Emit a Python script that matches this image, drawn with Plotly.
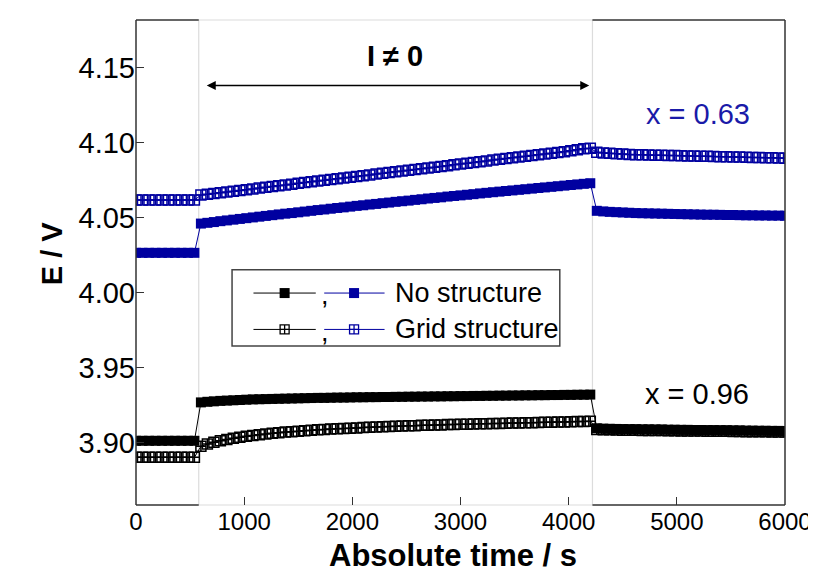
import plotly.graph_objects as go

# ---------------- data ----------------
TIME_REST1 = [0, 60, 120, 180, 240, 300, 360, 420, 480, 540]
TIME_PULSE = [600, 660, 720, 780, 840, 900, 960, 1020, 1080, 1140, 1200, 1260, 1320, 1380, 1440,
              1500, 1560, 1620, 1680, 1740, 1800, 1860, 1920, 1980, 2040, 2100, 2160, 2220, 2280,
              2340, 2400, 2460, 2520, 2580, 2640, 2700, 2760, 2820, 2880, 2940, 3000, 3060, 3120,
              3180, 3240, 3300, 3360, 3420, 3480, 3540, 3600, 3660, 3720, 3780, 3840, 3900, 3960,
              4020, 4080, 4140, 4200]
TIME_REST2 = [4260, 4320, 4380, 4440, 4500, 4560, 4620, 4680, 4740, 4800, 4860, 4920, 4980, 5040,
              5100, 5160, 5220, 5280, 5340, 5400, 5460, 5520, 5580, 5640, 5700, 5760, 5820, 5880,
              5940, 6000]

# x = 0.63, no structure (blue filled squares)
BLUE_NO_REST1 = [4.0265, 4.0265, 4.0265, 4.0265, 4.0265, 4.0265, 4.0265, 4.0265, 4.0265, 4.0265]
BLUE_NO_PULSE = [4.0460, 4.0465, 4.0470, 4.0476, 4.0481, 4.0486, 4.0491, 4.0496, 4.0501, 4.0506,
                 4.0511, 4.0516, 4.0521, 4.0526, 4.0530, 4.0535, 4.0540, 4.0545, 4.0550, 4.0554,
                 4.0559, 4.0564, 4.0568, 4.0573, 4.0578, 4.0582, 4.0587, 4.0591, 4.0596, 4.0600,
                 4.0605, 4.0609, 4.0613, 4.0618, 4.0622, 4.0627, 4.0631, 4.0635, 4.0640, 4.0644,
                 4.0648, 4.0652, 4.0656, 4.0661, 4.0665, 4.0669, 4.0673, 4.0677, 4.0681, 4.0685,
                 4.0689, 4.0693, 4.0697, 4.0701, 4.0705, 4.0709, 4.0713, 4.0717, 4.0721, 4.0725,
                 4.0729]
BLUE_NO_REST2 = [4.0545, 4.0541, 4.0538, 4.0536, 4.0534, 4.0532, 4.0530, 4.0529, 4.0528, 4.0527,
                 4.0526, 4.0525, 4.0524, 4.0523, 4.0522, 4.0521, 4.0520, 4.0519, 4.0519, 4.0518,
                 4.0517, 4.0517, 4.0516, 4.0515, 4.0515, 4.0514, 4.0514, 4.0513, 4.0513, 4.0512]

# x = 0.63, grid structure (blue open squares with cross)
BLUE_GRID_REST1 = [4.0617, 4.0617, 4.0617, 4.0617, 4.0617, 4.0617, 4.0617, 4.0617, 4.0617, 4.0617]
BLUE_GRID_PULSE = [4.0650, 4.0655, 4.0660, 4.0666, 4.0671, 4.0676, 4.0681, 4.0686, 4.0691, 4.0697,
                   4.0702, 4.0707, 4.0712, 4.0717, 4.0722, 4.0728, 4.0733, 4.0738, 4.0743, 4.0748,
                   4.0753, 4.0759, 4.0764, 4.0769, 4.0774, 4.0779, 4.0784, 4.0790, 4.0795, 4.0800,
                   4.0805, 4.0810, 4.0815, 4.0821, 4.0826, 4.0831, 4.0836, 4.0841, 4.0846, 4.0852,
                   4.0857, 4.0862, 4.0867, 4.0872, 4.0877, 4.0883, 4.0888, 4.0893, 4.0898, 4.0903,
                   4.0908, 4.0914, 4.0919, 4.0924, 4.0929, 4.0934, 4.0939, 4.0945, 4.0952, 4.0958,
                   4.0962]
BLUE_GRID_REST2 = [4.0935, 4.0931, 4.0928, 4.0925, 4.0923, 4.0921, 4.0919, 4.0918, 4.0917, 4.0916,
                   4.0915, 4.0914, 4.0913, 4.0912, 4.0911, 4.0910, 4.0909, 4.0908, 4.0907, 4.0906,
                   4.0905, 4.0904, 4.0903, 4.0902, 4.0901, 4.0900, 4.0899, 4.0898, 4.0897, 4.0896]

# x = 0.96, no structure (black filled squares)
BLACK_NO_REST1 = [3.9012, 3.9012, 3.9012, 3.9012, 3.9012, 3.9012, 3.9012, 3.9012, 3.9012, 3.9012]
BLACK_NO_PULSE = [3.9268, 3.9272, 3.9275, 3.9278, 3.9280, 3.9282, 3.9284, 3.9286, 3.9288, 3.9289,
                  3.9290, 3.9291, 3.9292, 3.9293, 3.9294, 3.9295, 3.9296, 3.9297, 3.9298, 3.9298,
                  3.9299, 3.9300, 3.9300, 3.9301, 3.9302, 3.9302, 3.9303, 3.9303, 3.9304, 3.9304,
                  3.9305, 3.9305, 3.9306, 3.9306, 3.9307, 3.9307, 3.9308, 3.9308, 3.9309, 3.9309,
                  3.9310, 3.9310, 3.9311, 3.9311, 3.9312, 3.9312, 3.9313, 3.9313, 3.9314, 3.9314,
                  3.9315, 3.9315, 3.9316, 3.9316, 3.9317, 3.9317, 3.9318, 3.9318, 3.9319, 3.9319,
                  3.9320]
BLACK_NO_REST2 = [3.9095, 3.9093, 3.9092, 3.9091, 3.9090, 3.9089, 3.9089, 3.9088, 3.9088, 3.9087,
                  3.9087, 3.9086, 3.9086, 3.9085, 3.9085, 3.9084, 3.9084, 3.9083, 3.9083, 3.9082,
                  3.9082, 3.9081, 3.9081, 3.9080, 3.9080, 3.9079, 3.9079, 3.9078, 3.9078, 3.9077]

# x = 0.96, grid structure (black open squares with cross)
BLACK_GRID_REST1 = [3.8902, 3.8902, 3.8902, 3.8902, 3.8902, 3.8902, 3.8902, 3.8902, 3.8902, 3.8902]
BLACK_GRID_PULSE = [3.8975, 3.8990, 3.9002, 3.9012, 3.9021, 3.9029, 3.9036, 3.9042, 3.9048, 3.9053,
                    3.9058, 3.9062, 3.9066, 3.9070, 3.9073, 3.9076, 3.9079, 3.9082, 3.9085, 3.9087,
                    3.9090, 3.9092, 3.9094, 3.9096, 3.9098, 3.9100, 3.9102, 3.9104, 3.9106, 3.9107,
                    3.9109, 3.9110, 3.9112, 3.9113, 3.9115, 3.9116, 3.9117, 3.9118, 3.9120, 3.9121,
                    3.9122, 3.9123, 3.9124, 3.9125, 3.9126, 3.9127, 3.9128, 3.9129, 3.9130, 3.9131,
                    3.9132, 3.9133, 3.9134, 3.9135, 3.9136, 3.9137, 3.9138, 3.9139, 3.9140, 3.9141,
                    3.9142]
BLACK_GRID_REST2 = [3.9088, 3.9086, 3.9085, 3.9084, 3.9083, 3.9082, 3.9082, 3.9081, 3.9081, 3.9080,
                    3.9080, 3.9079, 3.9079, 3.9078, 3.9078, 3.9077, 3.9077, 3.9076, 3.9076, 3.9075,
                    3.9075, 3.9074, 3.9074, 3.9073, 3.9073, 3.9072, 3.9072, 3.9071, 3.9071, 3.9070]

PULSE_START = 580
PULSE_END = 4220
X_TICKS = [0, 1000, 2000, 3000, 4000, 5000, 6000]
Y_TICKS = [3.90, 3.95, 4.00, 4.05, 4.10, 4.15]
Y_TICK_TEXT = ["3.90", "3.95", "4.00", "4.05", "4.10", "4.15"]
LEGEND_LABELS = ["No structure", "Grid structure"]

BLUE = "#0000a0"
TEXT_BLUE = "#1a1aa8"
BLACK = "#000000"
FONT = "Liberation Sans, Arial, sans-serif"

time_all = TIME_REST1 + TIME_PULSE + TIME_REST2

fig = go.Figure()

def add_series(vals, color, grid):
    marker = dict(color=color, size=10, symbol="square-cross-open" if grid else "square",
                  line=dict(color=color, width=1.5 if grid else 0))
    fig.add_trace(go.Scatter(x=time_all, y=vals, mode="lines+markers",
                             line=dict(color=color, width=1), marker=marker,
                             showlegend=False, hoverinfo="skip"))

add_series(BLACK_GRID_REST1 + BLACK_GRID_PULSE + BLACK_GRID_REST2, BLACK, True)
add_series(BLACK_NO_REST1 + BLACK_NO_PULSE + BLACK_NO_REST2, BLACK, False)
add_series(BLUE_GRID_REST1 + BLUE_GRID_PULSE + BLUE_GRID_REST2, BLUE, True)
add_series(BLUE_NO_REST1 + BLUE_NO_PULSE + BLUE_NO_REST2, BLUE, False)

# ---- custom legend (drawn on an overlay axis in 0..1 units) ----
legend_rows = [0.437, 0.362]
for row_y, grid in zip(legend_rows, [False, True]):
    sym = "square-cross-open" if grid else "square"
    for (x0, x1, xm), col in [((0.181, 0.277, 0.229), BLACK), ((0.290, 0.383, 0.336), BLUE)]:
        fig.add_trace(go.Scatter(x=[x0, x1], y=[row_y, row_y], mode="lines",
                                 line=dict(color=col, width=1), xaxis="x2", yaxis="y2",
                                 showlegend=False, hoverinfo="skip"))
        fig.add_trace(go.Scatter(x=[xm], y=[row_y], mode="markers", xaxis="x2", yaxis="y2",
                                 marker=dict(color=col, size=10 if not grid else 9, symbol=sym,
                                             line=dict(color=col, width=1.3 if grid else 0)),
                                 showlegend=False, hoverinfo="skip"))

shapes = [
    # legend box
    dict(type="rect", xref="paper", yref="paper", x0=0.148, x1=0.653, y0=0.328, y1=0.485,
         line=dict(color="#444", width=1.5), fillcolor="white", layer="below"),
    # current-on window
    dict(type="rect", xref="x", yref="paper", x0=PULSE_START, x1=PULSE_END, y0=0, y1=1,
         line=dict(color="#dcdcdc", width=1.2), layer="below"),
    # frame
    dict(type="line", xref="paper", yref="paper", x0=0, x1=0, y0=0, y1=1, line=dict(color="#333", width=1.5)),
    dict(type="line", xref="paper", yref="paper", x0=1, x1=1, y0=0, y1=1, line=dict(color="#333", width=1.5)),
    dict(type="line", xref="x", yref="paper", x0=0, x1=PULSE_START, y0=0, y1=0, line=dict(color="#333", width=1.5)),
    dict(type="line", xref="x", yref="paper", x0=PULSE_END, x1=6000, y0=0, y1=0, line=dict(color="#333", width=1.5)),
    dict(type="line", xref="x", yref="paper", x0=0, x1=PULSE_START, y0=1, y1=1, line=dict(color="#333", width=1.5)),
    dict(type="line", xref="x", yref="paper", x0=PULSE_END, x1=6000, y0=1, y1=1, line=dict(color="#333", width=1.5)),
]

annotations = [
    dict(x=4190, y=4.138, ax=640, ay=4.138, xref="x", yref="y", axref="x", ayref="y",
         text="", showarrow=True, arrowhead=2, arrowside="end+start", arrowsize=1.2,
         arrowwidth=1.5, arrowcolor="black"),
    dict(x=2390, y=4.158, xref="x", yref="y", text="<b>I \u2260 0</b>", showarrow=False,
         font=dict(family=FONT, size=29, color="black")),
    dict(x=5200, y=4.1193, xref="x", yref="y", text="x = 0.63", showarrow=False,
         font=dict(family=FONT, size=29, color=TEXT_BLUE)),
    dict(x=5190, y=3.9327, xref="x", yref="y", text="x = 0.96", showarrow=False,
         font=dict(family=FONT, size=29, color="black")),
    dict(x=0.282, y=legend_rows[0] - 0.005, xref="paper", yref="paper", text=",", showarrow=False,
         font=dict(family=FONT, size=27, color="black")),
    dict(x=0.282, y=legend_rows[1] - 0.005, xref="paper", yref="paper", text=",", showarrow=False,
         font=dict(family=FONT, size=27, color="black")),
    dict(x=0.396, y=legend_rows[0], xref="paper", yref="paper", text=LEGEND_LABELS[0], showarrow=False,
         xanchor="left", font=dict(family=FONT, size=27, color="black")),
    dict(x=0.396, y=legend_rows[1], xref="paper", yref="paper", text=LEGEND_LABELS[1], showarrow=False,
         xanchor="left", font=dict(family=FONT, size=27, color="black")),
    # axis titles
    dict(x=0.488, y=-0.145, xref="paper", yref="paper", text="<b>Absolute time / s</b>",
         showarrow=False, font=dict(family=FONT, size=31, color="black")),
    dict(x=-0.158, y=0.52, xref="paper", yref="paper", text="<b>E / V</b>", textangle=-90,
         showarrow=False, font=dict(family=FONT, size=29, color="black")),
]

fig.update_layout(
    width=816, height=578,
    margin=dict(l=128, r=32, t=12, b=81),
    paper_bgcolor="white", plot_bgcolor="white",
    showlegend=False,
    shapes=shapes, annotations=annotations,
    xaxis=dict(range=[0, 6000], tickvals=X_TICKS, ticks="inside", ticklen=8, tickwidth=1.3,
               tickcolor="#333", showgrid=False, zeroline=False, showline=False,
               tickfont=dict(family=FONT, size=24, color="black")),
    yaxis=dict(range=[3.8584, 4.1817], tickvals=Y_TICKS, ticktext=Y_TICK_TEXT, ticks="inside",
               ticklen=8, tickwidth=1.3, tickcolor="#333", showgrid=False, zeroline=False,
               showline=False, tickfont=dict(family=FONT, size=29, color="black")),
    xaxis2=dict(overlaying="x", range=[0, 1], visible=False, fixedrange=True),
    yaxis2=dict(overlaying="y", range=[0, 1], visible=False, fixedrange=True),
)

fig.write_html("out.html")
